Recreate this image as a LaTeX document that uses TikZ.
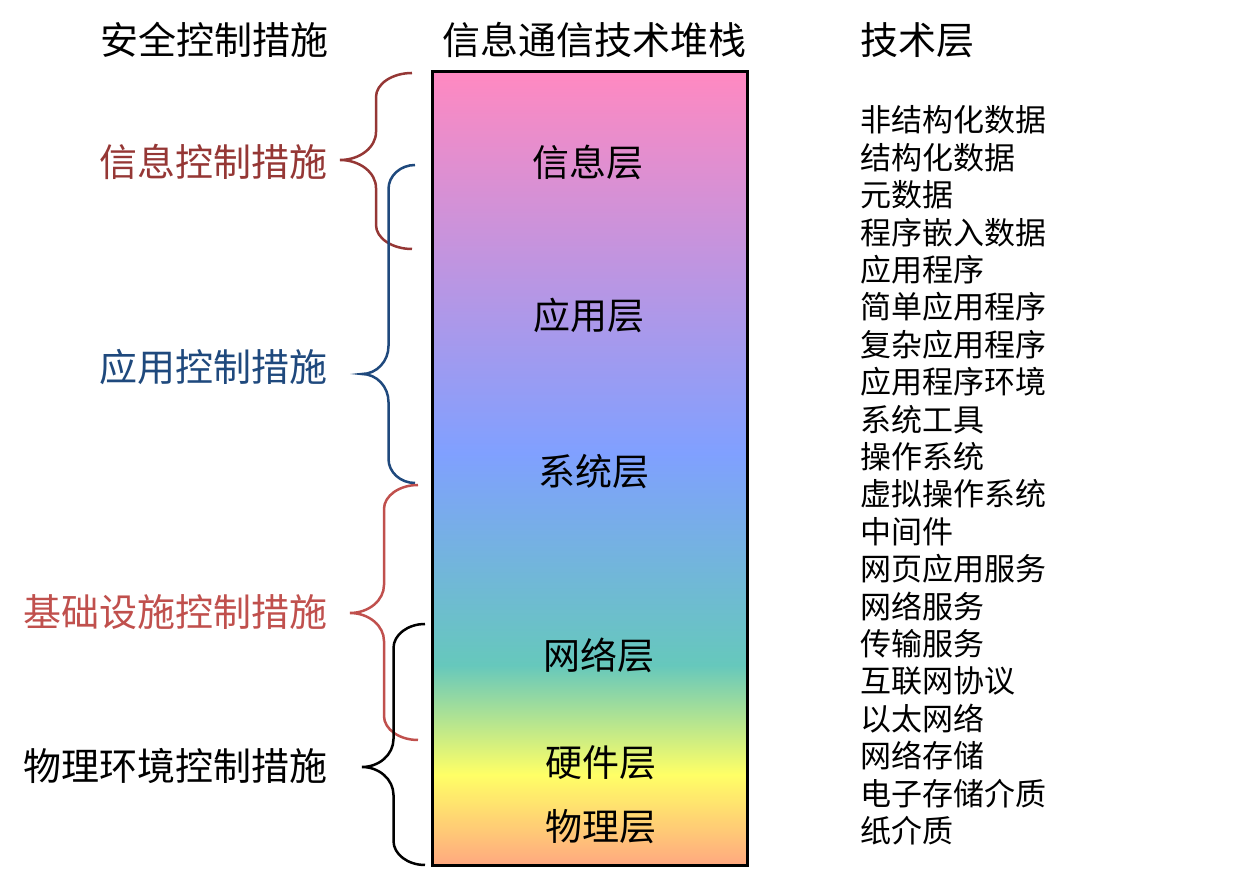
\documentclass[tikz,border=0pt]{standalone}
\usepackage{fontspec}
\setmainfont{Noto Sans CJK SC}
\usepackage{xcolor}
\usepackage{tikz}
\usetikzlibrary{positioning,calc}
\definecolor{infored}{RGB}{149,55,53}
\definecolor{appblue}{RGB}{31,73,125}
\definecolor{infrared}{RGB}{192,80,77}
\definecolor{stackpink}{RGB}{255,137,193}
\definecolor{stackblue}{RGB}{128,160,255}
\definecolor{stackteal}{RGB}{102,200,188}
\definecolor{stackyellow}{RGB}{255,255,102}
\definecolor{stackorange}{RGB}{255,168,128}
\pgfdeclareverticalshading{stackshade}{100bp}{color(0bp)=(stackorange); color(25bp)=(stackorange);
  color(30.7bp)=(stackyellow); color(37.6bp)=(stackteal); color(51bp)=(stackblue);
  color(75bp)=(stackpink); color(100bp)=(stackpink)}

\begin{document}
\begin{tikzpicture}[x=0.5pt,y=-0.5pt,
  head/.style={inner sep=0pt,font=\fontsize{19}{19}\selectfont},
  ctrl/.style={anchor=east,inner sep=0pt,font=\fontsize{19}{19}\selectfont},
  layer/.style={inner sep=0pt,font=\fontsize{18.5}{18.5}\selectfont},
  item/.style={anchor=west,inner sep=0pt,font=\fontsize{15.5}{15.5}\selectfont},
  ctrlbrace/.style={line width=1.25pt}]
\useasboundingbox (0,0) rectangle (1253,870);
% headings
\node[head] (hctrl) at (214,40) {安全控制措施};
\node[head] (hstack) at (594,40) {信息通信技术堆栈};
\node[head,anchor=west] (htech) at (860,40) {技术层};
% stack
\node[draw,line width=1.5pt,shade,shading=stackshade,minimum width=157.5pt,
      minimum height=396.5pt,inner sep=0pt] (stack) at (589.5,468.5) {};
\node[layer] (linfo) at (588,162) {信息层};
\node[layer] (lapp) at (589,315) {应用层};
\node[layer] (lsys) at (594,472) {系统层};
\node[layer] (lnet) at (599,655) {网络层};
\node[layer] (lhw) at (601,763) {硬件层};
\node[layer] (lphy) at (601,827) {物理层};
% braces : top end, tip, bottom end
\coordinate (info-t) at (412,73);  \coordinate (info-m) at (340,160);  \coordinate (info-b) at (412,249);
\coordinate (app-t) at (415,165);  \coordinate (app-m) at (362,374);   \coordinate (app-b) at (415,483);
\coordinate (infra-t) at (418,485); \coordinate (infra-m) at (350,613); \coordinate (infra-b) at (418,740);
\coordinate (phy-t) at (425,624);  \coordinate (phy-m) at (362,767);   \coordinate (phy-b) at (425,865);
\foreach \b/\c in {info/infored,app/appblue,infra/infrared,phy/black}{
  \draw[ctrlbrace,\c] let \p1=(\b-t), \p2=(\b-m), \p3=(\b-b), \n1={(\x1+\x2)/2},
      \n2={\x1-0.55*(\x1-\n1)}, \n3={\x2+0.55*(\n1-\x2)} in
    (\p1) .. controls (\n2,\y1) and (\n1,\y1-5.4pt) .. (\n1,\y1-12pt)
    -- (\n1,\y2+14pt) .. controls (\n1,\y2+6.3pt) and (\n3,\y2) .. (\p2)
    .. controls (\n3,\y2) and (\n1,\y2-6.3pt) .. (\n1,\y2-14pt)
    -- (\n1,\y3+12pt) .. controls (\n1,\y3+5.4pt) and (\n2,\y3) .. (\p3);
}
\node[ctrl,infored] (cinfo) at (328,162) {信息控制措施};
\node[ctrl,appblue] (capp) at (328,367) {应用控制措施};
\node[ctrl,infrared] (cinfra) at (328,612) {基础设施控制措施};
\node[ctrl] (cphy) at (328,766) {物理环境控制措施};
% technology list
\foreach \t [count=\i from 0] in {非结构化数据,结构化数据,元数据,程序嵌入数据,应用程序,
    简单应用程序,复杂应用程序,应用程序环境,系统工具,操作系统,虚拟操作系统,中间件,
    网页应用服务,网络服务,传输服务,互联网协议,以太网络,网络存储,电子存储介质,纸介质}{
  \pgfmathsetmacro\yv{120+\i*37.4}
  \node[item] (tech\i) at (860,\yv) {\t};
}
\end{tikzpicture}
\end{document}
